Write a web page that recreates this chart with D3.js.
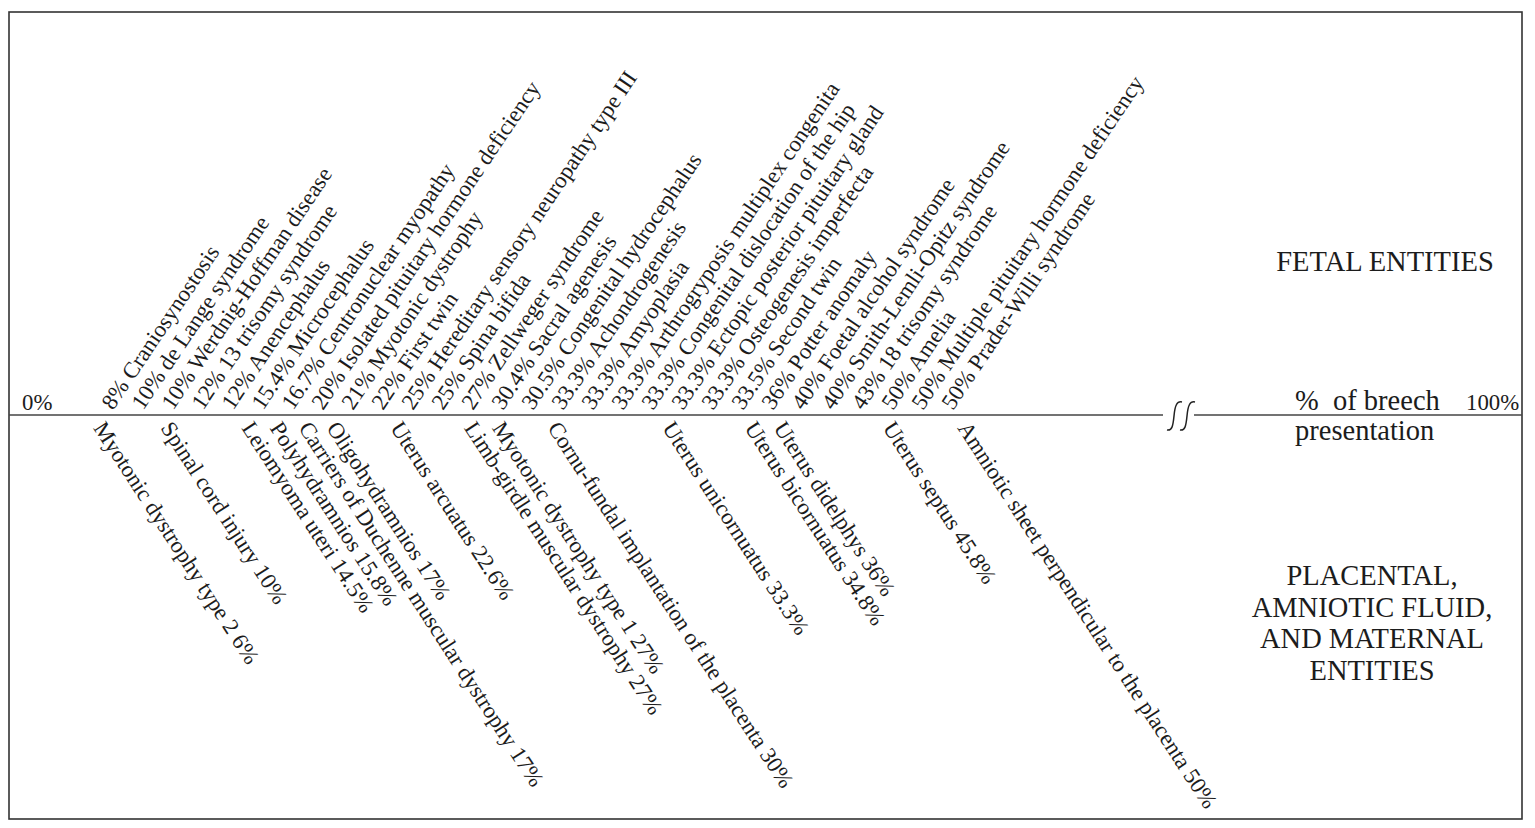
<!DOCTYPE html>
<html>
<head>
<meta charset="utf-8">
<script src="https://cdn.jsdelivr.net/npm/d3@7"></script>
<style>
  body { margin: 0; background: #fff; }
  text { font-family: "Liberation Serif", "Times New Roman", serif; fill: #1c1c1c; white-space: pre; }
</style>
</head>
<body>
<svg id="chart"></svg>
<script>
// fetal entities (above the axis), sorted by % of breech presentation
const fetalNames = [
  "Craniosynostosis", "de Lange syndrome", "Werdnig-Hoffman disease", "13 trisomy syndrome",
  "Anencephalus", "Microcephalus", "Centronuclear myopathy", "Isolated pituitary hormone deficiency",
  "Myotonic dystrophy", "First twin", "Hereditary sensory neuropathy type III", "Spina bifida",
  "Zellweger syndrome", "Sacral agenesis", "Congenital hydrocephalus", "Achondrogenesis",
  "Amyoplasia", "Arthrogryposis multiplex congenita", "Congenital dislocation of the hip",
  "Ectopic posterior pituitary gland", "Osteogenesis imperfecta", "Second twin", "Potter anomaly",
  "Foetal alcohol syndrome", "Smith-Lemli-Opitz syndrome", "18 trisomy syndrome", "Amelia",
  "Multiple pituitary hormone deficiency", "Prader-Willi syndrome"
];
const fetalPct = [8, 10, 10, 12, 12, 15.4, 16.7, 20, 21, 22, 25, 25, 27, 30.4, 30.5,
  33.3, 33.3, 33.3, 33.3, 33.3, 33.3, 33.5, 36, 40, 40, 43, 50, 50, 50];

// placental, amniotic fluid and maternal entities (below the axis)
const placentalNames = [
  "Myotonic dystrophy type 2", "Spinal cord injury", "Leiomyoma uteri", "Polyhydramnios",
  "Carriers of Duchenne muscular dystrophy", "Oligohydramnios", "Uterus arcuatus",
  "Limb-girdle muscular dystrophy", "Myotonic dystrophy type 1",
  "Cornu-fundal implantation of the placenta", "Uterus unicornuatus", "Uterus bicornuatus",
  "Uterus didelphys", "Uterus septus", "Amniotic sheet perpendicular to the placenta"
];
const placentalPct = [6, 10, 14.5, 15.8, 17, 17, 22.6, 27, 27, 30, 33.3, 34.8, 36, 45.8, 50];

const axisTicks = ["0%", "100%"];
const axisTitle = ["%  of breech", "presentation"];
const fetalTitle = ["FETAL ENTITIES"];
const placentalTitle = ["PLACENTAL,", "AMNIOTIC FLUID,", "AND MATERNAL", "ENTITIES"];

const width = 1535;
const height = 828;
const axisY = 415;
const labelSize = 22.8;
const titleSize = 28.5;
const tiltUp = 56;
const tiltDown = 57;

const svg = d3.select("#chart")
  .attr("width", width)
  .attr("height", height);

// frame
svg.append("rect")
  .attr("x", 9).attr("y", 12)
  .attr("width", 1513).attr("height", 807)
  .attr("fill", "none")
  .attr("stroke", "#333")
  .attr("stroke-width", 1.6);

// fetal labels sit on evenly spaced slots
const xFetal = d3.scalePoint()
  .domain(d3.range(fetalNames.length))
  .range([113, 113 + 30 * (fetalNames.length - 1)]);

// the lower labels follow the hand-spaced (non linear) axis of the figure
const xPlacental = d3.scaleLinear()
  .domain([0, 5, 10, 15, 20, 25, 30, 32.5, 35, 37.5, 40, 45, 50])
  .range([20, 76, 160, 250, 370, 408, 547, 618, 755, 800, 830, 868, 957]);
const tieStep = 28;

// axis line with break
svg.append("line")
  .attr("x1", 9).attr("x2", 1163)
  .attr("y1", axisY).attr("y2", axisY)
  .attr("stroke", "#444").attr("stroke-width", 1.6);
svg.append("line")
  .attr("x1", 1194).attr("x2", 1522)
  .attr("y1", axisY).attr("y2", axisY)
  .attr("stroke", "#444").attr("stroke-width", 1.6);

const breakMark = d3.path();
[1167, 1180].forEach(bx => {
  breakMark.moveTo(bx, 430);
  breakMark.bezierCurveTo(bx + 5, 431, bx + 6, 426, bx + 7, 416);
  breakMark.bezierCurveTo(bx + 8, 405, bx + 10, 401, bx + 15, 402);
});
svg.append("path")
  .attr("d", breakMark.toString())
  .attr("fill", "none")
  .attr("stroke", "#222")
  .attr("stroke-width", 1.5);

// end ticks
svg.selectAll(".tick")
  .data(axisTicks)
  .join("text")
  .attr("class", "tick")
  .attr("x", (d, i) => i === 0 ? 22 : 1466)
  .attr("y", 410)
  .attr("font-size", labelSize)
  .text(d => d);

svg.selectAll(".axisTitle")
  .data(axisTitle)
  .join("text")
  .attr("class", "axisTitle")
  .attr("x", 1295)
  .attr("y", (d, i) => 410 + i * 30)
  .attr("font-size", titleSize)
  .text(d => d);

// fetal labels, rotated up
const fetal = fetalNames.map((name, i) => ({ name, pct: fetalPct[i], i }));
svg.selectAll(".fetal")
  .data(fetal)
  .join("text")
  .attr("class", "fetal")
  .attr("transform", d => `translate(${xFetal(d.i)},${axisY - 4}) rotate(${-tiltUp})`)
  .attr("font-size", labelSize)
  .text(d => `${d.pct}% ${d.name}`);

// placental labels, rotated down; equal values step to the right
const seen = {};
const placental = placentalNames.map((name, i) => {
  const pct = placentalPct[i];
  const rank = seen[pct] || 0;
  seen[pct] = rank + 1;
  return { name, pct, x: xPlacental(pct) + rank * tieStep };
});
svg.selectAll(".placental")
  .data(placental)
  .join("text")
  .attr("class", "placental")
  .attr("transform", d => `translate(${d.x},${axisY + 13}) rotate(${tiltDown})`)
  .attr("font-size", labelSize)
  .text(d => `${d.name} ${d.pct}%`);

// group titles on the right
svg.selectAll(".fetalTitle")
  .data(fetalTitle)
  .join("text")
  .attr("class", "fetalTitle")
  .attr("x", 1385)
  .attr("y", 271)
  .attr("text-anchor", "middle")
  .attr("font-size", titleSize)
  .text(d => d);

svg.selectAll(".placentalTitle")
  .data(placentalTitle)
  .join("text")
  .attr("class", "placentalTitle")
  .attr("x", 1372)
  .attr("y", (d, i) => 585 + i * 31.7)
  .attr("text-anchor", "middle")
  .attr("font-size", titleSize)
  .text(d => d);
</script>
</body>
</html>
